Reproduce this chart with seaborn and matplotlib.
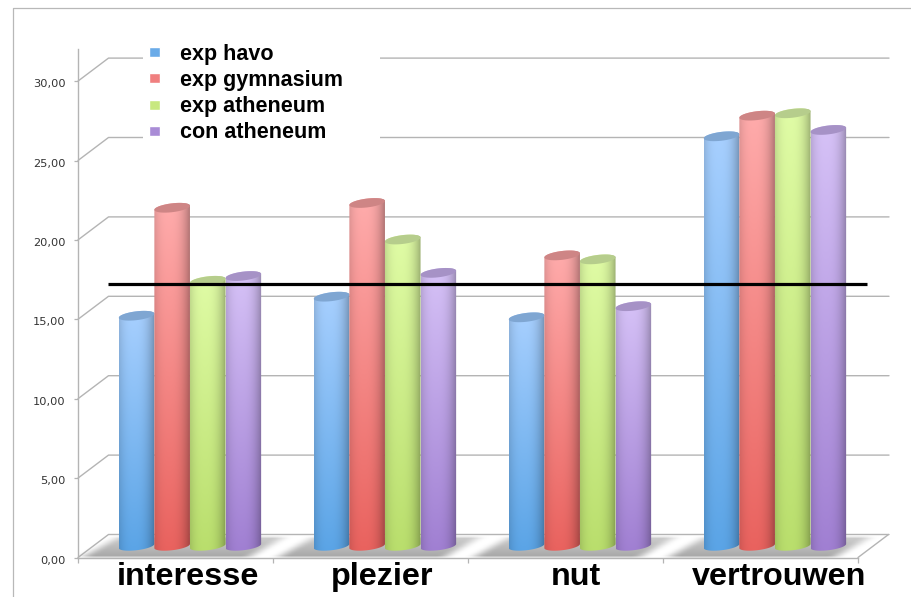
import numpy as np
import pandas as pd
import matplotlib
matplotlib.use("Agg")
import matplotlib.pyplot as plt
from matplotlib.lines import Line2D
from matplotlib.patches import Polygon, Rectangle
from matplotlib.transforms import ScaledTranslation
import seaborn as sns

# ====================== DATA ======================
categories = ["interesse", "plezier", "nut", "vertrouwen"]
series = ["exp havo", "exp gymnasium", "exp atheneum", "con atheneum"]
exp_havo = [14.5, 15.7, 14.4, 25.8]
exp_gymnasium = [21.3, 21.6, 18.3, 27.1]
exp_atheneum = [16.7, 19.3, 18.05, 27.25]
con_atheneum = [17.0, 17.2, 15.1, 26.2]
reference_line = 16.5
y_ticks = [0, 5, 10, 15, 20, 25, 30]
y_tick_labels = ["0,00", "5,00", "10,00", "15,00", "20,00", "25,00", "30,00"]

bottom_colors = ["#5AA4E6", "#E9625E", "#B9DE6C", "#A07FD2"]
top_colors = ["#A8D0FF", "#FFACAC", "#E0FCA6", "#D6C2F7"]
cap_colors = ["#7FA6D2", "#CE8585", "#B6CD8C", "#A692C6"]
legend_colors = ["#6AABE8", "#F07F7F", "#C8E880", "#A98CD6"]

# ====================== LAYOUT (pixels) ======================
W, H = 911, 597
PX_PER_UNIT = 15.88
FRONT_LEFT, FRONT_RIGHT, FRONT_ZERO = 78, 858, 557.5
DEPTH_X, DEPTH_Y = 30.5, 23
AXIS_TOP = 49
GRID = "#b4b4b4"


def ax_rect(left, right, top, bottom):
    return [left / W, 1 - bottom / H, (right - left) / W, (bottom - top) / H]


sns.set_style("white")
plt.rcParams["font.family"] = ["Liberation Sans", "DejaVu Sans"]
plt.rcParams["text.color"] = "black"

fig = plt.figure(figsize=(W / 100, H / 100), dpi=100)

# page frame
fig.add_artist(Line2D([12.5 / W, 12.5 / W, 1], [0, 1 - 7.5 / H, 1 - 7.5 / H],
                      color="#b8b8b8", lw=0.9))

# ====================== WALLS ======================
wall = fig.add_axes(ax_rect(FRONT_LEFT, FRONT_RIGHT, AXIS_TOP, FRONT_ZERO))
wall.set_xlim(0, FRONT_RIGHT - FRONT_LEFT)
wall.set_ylim(0, (FRONT_ZERO - AXIS_TOP) / PX_PER_UNIT)
wall.patch.set_visible(False)
dv = DEPTH_Y / PX_PER_UNIT
far = W - 22 - FRONT_LEFT
for v in y_ticks:
    wall.plot([0, DEPTH_X, far], [v, v + dv, v + dv], color=GRID, lw=1.0,
              clip_on=False, zorder=1)
wall.plot([780, 780 + DEPTH_X], [0, dv], color=GRID, lw=1.0, clip_on=False, zorder=1)

sns.despine(ax=wall, top=True, right=True)
for s in ["left", "bottom"]:
    wall.spines[s].set_color(GRID)
    wall.spines[s].set_linewidth(1.0)
wall.set_yticks(y_ticks)
wall.set_yticklabels(y_tick_labels, fontsize=8.2, color="#333333", family="DejaVu Sans")
wall.set_xticks([0, 195, 390, 585, 780])
wall.set_xticklabels([])
wall.tick_params(axis="y", length=3, width=0.9, color=GRID, pad=6, left=True)
wall.tick_params(axis="x", length=3.5, width=0.9, color=GRID, bottom=True)
down = ScaledTranslation(0, -1.5 / 72, fig.dpi_scale_trans)
for lab in wall.get_yticklabels():
    lab.set_transform(lab.get_transform() + down)

# white box behind the legend breaks the two top gridlines
wall.add_patch(Rectangle((143 - FRONT_LEFT, (FRONT_ZERO - 146) / PX_PER_UNIT), 237,
                         104 / PX_PER_UNIT, fc="white", ec="none", zorder=2, clip_on=False))

# floor shadow, blurred parallelograms
rows, cols = 34, far
yy, xx = np.mgrid[0:rows, 0:cols]
py = 528 + yy + 0.5
px = FRONT_LEFT + xx + 0.5
t = (556.5 - py) / 19
mask = np.zeros((rows, cols))
for c in [190, 385.5, 581, 776]:
    left = c - 106 + 33 * t
    right = c + 60 + 33 * t
    body = (t >= 0) & (t <= 1) & (px >= left) & (px <= right)
    mask[body] = (0.55 + 0.4 * (1 - t))[body]
for k in [15, 9]:
    kernel = np.ones(k) / k
    mask = np.apply_along_axis(lambda r: np.convolve(r, kernel, mode="same"), 1, mask)
kernel = np.ones(3) / 3
mask = np.apply_along_axis(lambda r: np.convolve(r, kernel, mode="same"), 0, mask)
shadow = np.zeros((rows, cols, 4))
shadow[..., :3] = 0.64
shadow[..., 3] = mask
wall.imshow(shadow, extent=(0, cols, (FRONT_ZERO - 562) / PX_PER_UNIT, (FRONT_ZERO - 528) / PX_PER_UNIT),
            aspect="auto", zorder=1.5, clip_on=False, interpolation="bilinear")
wall.set_xlim(0, FRONT_RIGHT - FRONT_LEFT)
wall.set_ylim(0, (FRONT_ZERO - AXIS_TOP) / PX_PER_UNIT)

# ====================== BARS ======================
BAR_LEFT = FRONT_LEFT + DEPTH_X / 2 - 0.8
BAR_RIGHT = FRONT_RIGHT + DEPTH_X / 2 - 0.8
BAR_ZERO = FRONT_ZERO - DEPTH_Y / 2
ax = fig.add_axes(ax_rect(BAR_LEFT, BAR_RIGHT, AXIS_TOP, FRONT_ZERO))
ax.patch.set_visible(False)

df = pd.DataFrame({
    "categorie": categories * 4,
    "groep": np.repeat(series, 4),
    "score": exp_havo + exp_gymnasium + exp_atheneum + con_atheneum,
})
sns.barplot(data=df, x="categorie", y="score", hue="groep", order=categories,
            hue_order=series, palette=legend_colors, saturation=1, width=0.73,
            gap=0, ax=ax)
ax.set_xlim(-0.5, 3.5)
ax.set_ylim((BAR_ZERO - FRONT_ZERO) / PX_PER_UNIT, (BAR_ZERO - AXIS_TOP) / PX_PER_UNIT)
PX_PER_CAT = (BAR_RIGHT - BAR_LEFT) / 4

# cylinders on top of the seaborn bars
ANGLE = np.deg2rad(7)


def ellipse(cx, cy, half_w, b, t0, t1, n=40):
    a = half_w / np.cos(ANGLE)
    tt = np.linspace(t0, t1, n)
    ex = a * np.cos(tt) * np.cos(ANGLE) - b * np.sin(tt) * np.sin(ANGLE)
    ey = a * np.cos(tt) * np.sin(ANGLE) + b * np.sin(tt) * np.cos(ANGLE)
    return np.column_stack([cx + ex / PX_PER_CAT, cy + ey / PX_PER_UNIT])


def to_rgb(c):
    return np.array(matplotlib.colors.to_rgb(c))


z = 3
u = np.linspace(0, 1, 80)
shade = 1 - 0.30 * np.abs((u - 0.42) / 0.58) ** 2.6
for i, container in enumerate(ax.containers):
    v = np.linspace(0, 1, 60)[:, None, None]
    grad = (1 - v) * to_rgb(bottom_colors[i]) + v * to_rgb(top_colors[i])
    grad = grad * shade[None, :, None]
    for bar in container:
        x0, w, h = bar.get_x(), bar.get_width(), bar.get_height()
        half = w * PX_PER_CAT / 2
        cx = x0 + w / 2
        bar.set_alpha(0)
        outline = np.vstack([ellipse(cx, 0, half, 4.2, np.pi, 2 * np.pi),
                             ellipse(cx, h, half, 4.4, 0, np.pi)])
        clip = Polygon(outline, closed=True, fc="none", ec="none", transform=ax.transData)
        ax.add_patch(clip)
        im = ax.imshow(grad, extent=(x0, x0 + w, -0.5, h + 0.5), origin="lower",
                       aspect="auto", zorder=z, interpolation="bilinear")
        im.set_clip_path(clip)
        ax.add_patch(Polygon(ellipse(cx, h, half, 4.4, 0, 2 * np.pi), closed=True,
                             fc=cap_colors[i], ec="none", zorder=z + 0.5))
        z += 1

ax.set_xlim(-0.5, 3.5)
ax.set_ylim((BAR_ZERO - FRONT_ZERO) / PX_PER_UNIT, (BAR_ZERO - AXIS_TOP) / PX_PER_UNIT)

# reference line
ax.plot([-0.42, 3.47], [reference_line, reference_line], color="black", lw=2.3,
        zorder=50, solid_capstyle="butt")

for s in ax.spines.values():
    s.set_visible(False)
ax.set_yticks([])
ax.set_xlabel("")
ax.set_ylabel("")
# the labels sit a little off the group centres in the reference
ax.set_xticks([-0.01, 0.985, 1.98, 3.02])
ax.set_xticklabels(categories, fontsize=23.3, fontweight="bold", color="black")
ax.tick_params(axis="x", length=0, pad=3.2)

sns.move_legend(ax, "upper left", bbox_to_anchor=((149 - BAR_LEFT) / (BAR_RIGHT - BAR_LEFT), 1 - (44 - AXIS_TOP) / (FRONT_ZERO - AXIS_TOP)),
                title=None, frameon=False, borderpad=0, borderaxespad=0,
                handlelength=0.5, handleheight=0.33, handletextpad=0.93,
                labelspacing=0.24, labelcolor="black", prop={"size": 15.5, "weight": "bold"})

fig.savefig("out.png", dpi=100)
plt.close(fig)
